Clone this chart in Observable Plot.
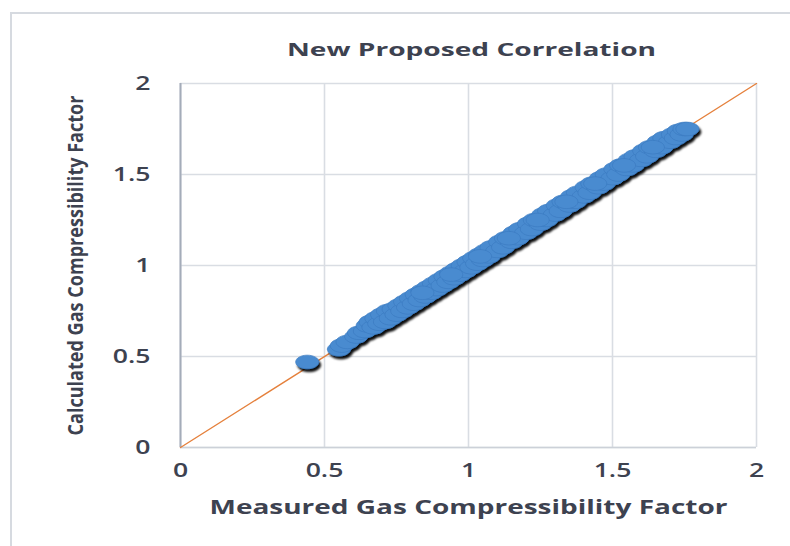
<!DOCTYPE html>
<html>
<head>
<meta charset="utf-8">
<script src="https://cdn.jsdelivr.net/npm/d3@7"></script>
<script src="https://cdn.jsdelivr.net/npm/@observablehq/plot@0.6"></script>
<style>
  body { margin: 0; background: #fff; }
  #chart { position: absolute; left: 0; top: 0; }
  #outline { position: absolute; left: 10px; top: 12px; width: 780px; height: 534px;
             border-left: 2px solid #d6dae0; border-top: 2px solid #d6dae0; pointer-events: none; }
</style>
</head>
<body>
<div id="chart"></div>
<div id="outline"></div>
<script>
// Measured vs. calculated gas compressibility factor (Z)
const measured = [
  0.44, 0.55, 0.56, 0.58, 0.61, 0.62, 0.64, 0.65, 0.66, 0.67,
  0.68, 0.69, 0.70, 0.71, 0.72, 0.73, 0.74, 0.75, 0.76, 0.77,
  0.78, 0.79, 0.80, 0.81, 0.82, 0.83, 0.84, 0.85, 0.86, 0.87,
  0.88, 0.89, 0.90, 0.91, 0.92, 0.93, 0.94, 0.95, 0.96, 0.97,
  0.98, 0.99, 1.00, 1.01, 1.02, 1.03, 1.04, 1.05, 1.06, 1.07,
  1.08, 1.10, 1.11, 1.12, 1.13, 1.15, 1.16, 1.17, 1.18, 1.20,
  1.21, 1.22, 1.23, 1.25, 1.26, 1.27, 1.28, 1.30, 1.31, 1.32,
  1.33, 1.35, 1.36, 1.37, 1.38, 1.40, 1.41, 1.42, 1.43, 1.45,
  1.46, 1.47, 1.48, 1.50, 1.51, 1.52, 1.53, 1.55, 1.56, 1.57,
  1.58, 1.60, 1.61, 1.62, 1.63, 1.65, 1.66, 1.67, 1.68, 1.70,
  1.71, 1.72, 1.73, 1.74, 1.75, 1.76,
  0.84, 0.94, 1.04, 1.14, 1.24, 1.34, 1.44, 1.54, 1.64
];
const calculated = [
  0.47, 0.54, 0.56, 0.58, 0.61, 0.63, 0.64, 0.67, 0.69, 0.66,
  0.71, 0.68, 0.73, 0.69, 0.75, 0.71, 0.76, 0.73, 0.78, 0.75,
  0.80, 0.77, 0.82, 0.79, 0.84, 0.81, 0.86, 0.83, 0.88, 0.85,
  0.90, 0.87, 0.92, 0.89, 0.94, 0.91, 0.96, 0.93, 0.98, 0.95,
  1.00, 0.97, 1.02, 0.99, 1.04, 1.01, 1.06, 1.03, 1.08, 1.05,
  1.10, 1.08, 1.13, 1.10, 1.15, 1.13, 1.18, 1.15, 1.20, 1.18,
  1.23, 1.20, 1.25, 1.23, 1.28, 1.25, 1.30, 1.28, 1.33, 1.30,
  1.35, 1.33, 1.38, 1.35, 1.40, 1.38, 1.43, 1.40, 1.45, 1.43,
  1.48, 1.45, 1.50, 1.48, 1.53, 1.50, 1.55, 1.53, 1.58, 1.55,
  1.60, 1.58, 1.63, 1.60, 1.65, 1.63, 1.68, 1.65, 1.70, 1.68,
  1.72, 1.70, 1.74, 1.72, 1.75, 1.75,
  0.85, 0.95, 1.05, 1.15, 1.25, 1.35, 1.45, 1.55, 1.65
];

// Axis ticks and their labels
const xTicks = [0, 0.5, 1, 1.5, 2];
const yTicks = [0, 0.5, 1, 1.5, 2];
const tickLabels = ["0", "0.5", "1", "1.5", "2"];

// Endpoints of the 1:1 reference line
const diagonal = [0, 2];

const chartTitle = "New Proposed Correlation";
const xTitle = "Measured Gas Compressibility Factor";
const yTitle = "Calculated Gas Compressibility Factor";

const points = measured.map((m, i) => ({measured: m, calculated: calculated[i]}));

// Elliptical marker (wider than tall)
const ellipse = {
  draw(context, size) {
    const r = Math.sqrt(size / Math.PI);
    const rx = r * 1.7, ry = r, k = 0.5523;
    context.moveTo(rx, 0);
    context.bezierCurveTo(rx, ry * k, rx * k, ry, 0, ry);
    context.bezierCurveTo(-rx * k, ry, -rx, ry * k, -rx, 0);
    context.bezierCurveTo(-rx, -ry * k, -rx * k, -ry, 0, -ry);
    context.bezierCurveTo(rx * k, -ry, rx, -ry * k, rx, 0);
    context.closePath();
  }
};

const textColor = "#3d4250";
const gridColor = "#d9dde3";

const chart = Plot.plot({
  width: 790,
  height: 546,
  marginLeft: 180,
  marginRight: 34,
  marginTop: 83,
  marginBottom: 99,
  x: {domain: [0, 2]},
  y: {domain: [0, 2]},
  style: {fontFamily: "'Open Sans', sans-serif", fontSize: "18px", color: textColor, background: "transparent"},
  marks: [
    Plot.gridX(xTicks, {stroke: gridColor, strokeOpacity: 1, strokeWidth: 1.6}),
    Plot.gridY(yTicks, {stroke: gridColor, strokeOpacity: 1, strokeWidth: 1.6}),
    Plot.ruleY([0], {stroke: "#ccd1d8", strokeWidth: 1.6}),
    Plot.ruleX([0], {stroke: "#a4acb9", strokeWidth: 2}),
    Plot.line(diagonal, {x: d => d, y: d => d, stroke: "#e5803c", strokeWidth: 1.4}),
    Plot.dot(points, {
      x: "measured", y: "calculated", r: 6.8, symbol: ellipse,
      fill: "#4a8bd0", stroke: "#3b7bc1", strokeWidth: 0.7
    }),
    Plot.axisX(xTicks, {
      tickSize: 0, tickPadding: 16, fontSize: 19, fontWeight: 600, fill: textColor,
      tickFormat: d => tickLabels[xTicks.indexOf(d)], label: null
    }),
    Plot.axisY(yTicks, {
      tickSize: 0, tickPadding: 30, fontSize: 19, fontWeight: 600, fill: textColor,
      tickFormat: d => tickLabels[yTicks.indexOf(d)], label: null
    }),
    Plot.text([chartTitle], {
      frameAnchor: "top", dy: -40, dx: 3, text: d => d, textAnchor: "middle",
      fontSize: 18, fontWeight: "bold", fill: textColor
    }),
    Plot.text([xTitle], {
      frameAnchor: "bottom", dy: 66, text: d => d, textAnchor: "middle",
      fontSize: 19, fontWeight: "bold", fill: textColor
    }),
    Plot.text([yTitle], {
      frameAnchor: "left", dx: -105, rotate: -90, text: d => d, textAnchor: "middle",
      fontSize: 22, fontWeight: "bold", fill: textColor
    })
  ]
});

document.getElementById("chart").appendChild(chart);

// Soft dark drop shadow under the markers
const svg = d3.select(chart);
const defs = svg.insert("defs", ":first-child");
defs.append("filter")
    .attr("id", "markerShadow")
    .attr("x", "-10%").attr("y", "-10%").attr("width", "120%").attr("height", "130%")
  .append("feDropShadow")
    .attr("dx", 2).attr("dy", 3).attr("stdDeviation", 1.3)
    .attr("flood-color", "#000").attr("flood-opacity", 0.95);
svg.select('g[aria-label="dot"]').attr("filter", "url(#markerShadow)");

// Wide letterforms for horizontal text; the rotated title runs condensed
const fixedLengths = new Map([[chartTitle, 369], [xTitle, 518], [yTitle, 340]]);
svg.selectAll("text").each(function() {
  const len = this.getComputedTextLength();
  if (!len) return;
  const target = fixedLengths.get(this.textContent) ?? len * 1.4;
  this.setAttribute("textLength", target);
  this.setAttribute("lengthAdjust", "spacingAndGlyphs");
});
</script>
</body>
</html>
